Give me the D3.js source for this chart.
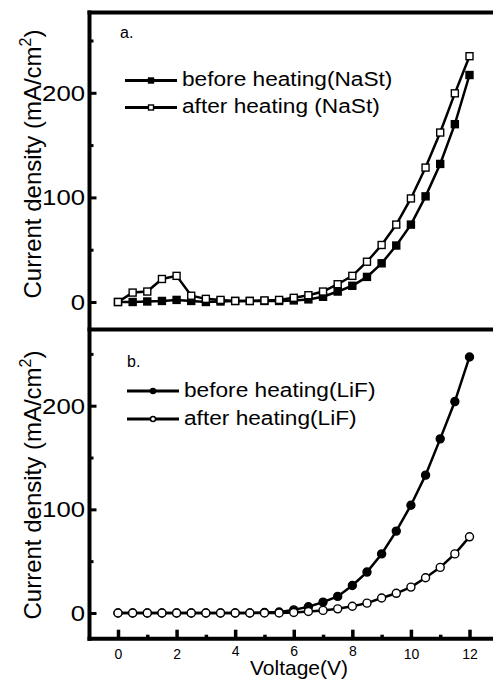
<!DOCTYPE html>
<html>
<head>
<meta charset="utf-8">
<script src="https://cdn.jsdelivr.net/npm/d3@7"></script>
<style>
  body { margin: 0; background: #fff; }
  svg { display: block; font-family: "Liberation Sans", Arial, sans-serif; }
</style>
</head>
<body>
<script>
// voltage steps shared by all four curves
const voltage = [0, 0.5, 1, 1.5, 2, 2.5, 3, 3.5, 4, 4.5, 5, 5.5, 6, 6.5, 7, 7.5, 8, 8.5, 9, 9.5, 10, 10.5, 11, 11.5, 12];

// panel a (NaSt)
const nastBefore = [0, 0, 0.5, 1, 2, 1, 0, 0.5, 1, 1, 1, 1, 1.5, 2.5, 5, 10, 15.5, 24, 37, 54, 74, 101, 132, 170, 217];
const nastAfter = [0, 9, 10, 22, 25, 6, 3, 2, 1, 1, 1.5, 2, 4, 6.5, 10, 17, 25, 38.5, 54.5, 74, 99, 128.5, 162, 199.5, 235];

// panel b (LiF)
const lifBefore = [0, 0, 0, 0, 0, 0, 0, 0, 0, 0, 0.5, 1, 3, 6, 10.5, 16, 26.5, 39.5, 57, 79, 104, 133, 168, 204, 247];
const lifAfter = [0, 0, 0, 0, 0, 0, 0, 0, 0, 0, 0, 0, 0.5, 1.5, 2.5, 4, 6.5, 9.5, 14.5, 19, 25, 34, 44, 57, 73.5];

const xMajor = [0, 2, 4, 6, 8, 10, 12];
const xMinor = [1, 3, 5, 7, 9, 11];
const yMajor = [0, 100, 200];
const yMinor = [50, 150, 250];

const w = 493;
const h = 683;
const axisX = 89.5;
const lineW = 4;

const svg = d3.select("body")
  .append("svg")
  .attr("width", w)
  .attr("height", h);

const xScale = d3.scaleLinear()
  .domain([0, 12])
  .range([118, 469.5]);

const panels = [
  {
    label: "a.", labelPos: [120, 38],
    top: 12.5, bottom: 329.5,
    y: d3.scaleLinear().domain([0, 200]).range([302, 92.8]),
    titleY: 164,
    legendX: 125, legendY: [80.5, 107.5],
    series: [
      { name: "before heating(NaSt)", values: nastBefore, shape: "square", filled: true },
      { name: "after heating (NaSt)", values: nastAfter, shape: "square", filled: false }
    ]
  },
  {
    label: "b.", labelPos: [127, 367],
    top: 329.5, bottom: 638.7,
    y: d3.scaleLinear().domain([0, 200]).range([613, 405.7]),
    titleY: 485,
    legendX: 127, legendY: [391, 419],
    series: [
      { name: "before heating(LiF)", values: lifBefore, shape: "circle", filled: true },
      { name: "after heating(LiF)", values: lifAfter, shape: "circle", filled: false }
    ]
  }
];

function drawMarker(g, shape, filled, cx, cy, size) {
  if (shape === "square") {
    g.append("rect")
      .attr("x", cx - size / 2)
      .attr("y", cy - size / 2)
      .attr("width", size)
      .attr("height", size)
      .attr("fill", filled ? "#000" : "#fff")
      .attr("stroke", "#000")
      .attr("stroke-width", 1.4);
  } else {
    g.append("circle")
      .attr("cx", cx)
      .attr("cy", cy)
      .attr("r", size / 2)
      .attr("fill", filled ? "#000" : "#fff")
      .attr("stroke", "#000")
      .attr("stroke-width", 1.4);
  }
}

function drawPanel(p, showXAxis) {
  const g = svg.append("g");

  // y axis ticks (inward)
  const yAxis = g.append("g")
    .attr("transform", `translate(${axisX},0)`)
    .call(d3.axisLeft(p.y).tickValues(yMajor).tickSizeInner(-7).tickSizeOuter(0).tickPadding(4));
  yAxis.select(".domain").remove();
  yAxis.selectAll("line").attr("stroke-width", 3);
  yAxis.selectAll("text")
    .attr("font-size", 23)
    .attr("font-family", "Liberation Sans, Arial, sans-serif")
    .attr("fill", "#000")
    .attr("transform", "scale(1.12,1)");

  const yMin = g.append("g")
    .attr("transform", `translate(${axisX},0)`)
    .call(d3.axisLeft(p.y).tickValues(yMinor).tickSizeInner(-4).tickSizeOuter(0).tickFormat(""));
  yMin.select(".domain").remove();
  yMin.selectAll("line").attr("stroke-width", 3);

  if (showXAxis) {
    const xAxis = g.append("g")
      .attr("transform", `translate(0,${p.bottom})`)
      .call(d3.axisBottom(xScale).tickValues(xMajor).tickSizeInner(-9).tickSizeOuter(0).tickPadding(10));
    xAxis.select(".domain").remove();
    xAxis.selectAll("line").attr("stroke-width", 3.5);
    // 4, 6 and 8 sit a little higher in the original, clear of the title
    xAxis.selectAll("text")
      .attr("font-size", 14)
      .attr("font-family", "Liberation Sans, Arial, sans-serif")
      .attr("fill", "#000")
      .attr("y", d => (d >= 4 && d <= 8) ? 7 : 10);

    const xMin = g.append("g")
      .attr("transform", `translate(0,${p.bottom})`)
      .call(d3.axisBottom(xScale).tickValues(xMinor).tickSizeInner(-4).tickSizeOuter(0).tickFormat(""));
    xMin.select(".domain").remove();
    xMin.selectAll("line").attr("stroke-width", 3.5);
  }

  // curves
  const line = d3.line()
    .x((d, i) => xScale(voltage[i]))
    .y(d => p.y(d));

  p.series.forEach(s => {
    g.append("path")
      .datum(s.values)
      .attr("d", line)
      .attr("fill", "none")
      .attr("stroke", "#000")
      .attr("stroke-width", 2.5);
    const mg = g.append("g");
    s.values.forEach((v, i) => {
      drawMarker(mg, s.shape, s.filled, xScale(voltage[i]), p.y(v), s.shape === "square" ? 7 : 8);
    });
  });

  // legend
  p.series.forEach((s, i) => {
    const ly = p.legendY[i];
    g.append("line")
      .attr("x1", p.legendX).attr("x2", p.legendX + 52)
      .attr("y1", ly).attr("y2", ly)
      .attr("stroke", "#000")
      .attr("stroke-width", 3);
    drawMarker(g, s.shape, s.filled, p.legendX + 26, ly, 5);
    g.append("text")
      .attr("x", p.legendX + 57)
      .attr("y", ly + 6)
      .attr("font-size", 21)
      .attr("transform", `translate(${(p.legendX + 57) * -0.08},0) scale(1.08,1)`)
      .text(s.name);
  });

  g.append("text")
    .attr("x", p.labelPos[0])
    .attr("y", p.labelPos[1])
    .attr("font-size", 16)
    .text(p.label);

  // y axis title
  const title = g.append("text")
    .attr("transform", `translate(41,${p.titleY}) rotate(-90)`)
    .attr("text-anchor", "middle")
    .attr("font-size", 24);
  title.append("tspan").text("Current density (mA/cm");
  title.append("tspan").attr("font-size", 16).attr("dy", -10).text("2");
  title.append("tspan").attr("dy", 10).text(")");
}

panels.forEach((p, i) => drawPanel(p, i === 1));

// frame lines
const frame = svg.append("g").attr("stroke", "#000").attr("stroke-width", lineW);
frame.append("line").attr("x1", axisX - 2).attr("x2", w + 2).attr("y1", panels[0].top).attr("y2", panels[0].top);
frame.append("line").attr("x1", axisX - 2).attr("x2", w + 2).attr("y1", panels[1].top).attr("y2", panels[1].top);
frame.append("line").attr("x1", axisX - 2).attr("x2", w + 2).attr("y1", panels[1].bottom).attr("y2", panels[1].bottom);
frame.append("line").attr("x1", axisX).attr("x2", axisX).attr("y1", panels[0].top - 2).attr("y2", panels[1].bottom + 2);

// x axis title
svg.append("text")
  .attr("x", 299)
  .attr("y", 675)
  .attr("text-anchor", "middle")
  .attr("font-size", 21)
  .text("Voltage(V)");
</script>
</body>
</html>
